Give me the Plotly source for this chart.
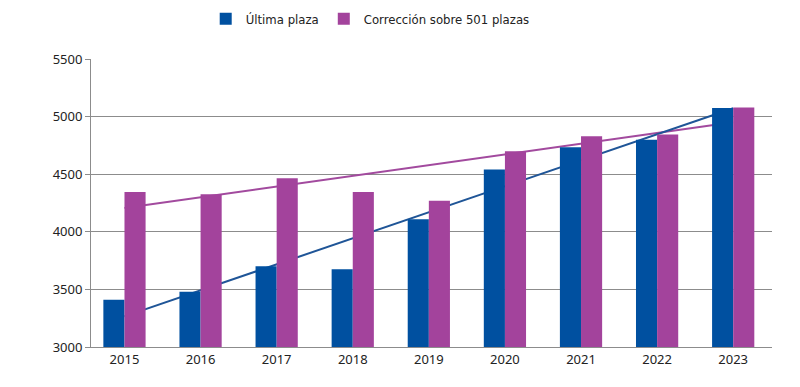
import numpy as np
import plotly.graph_objects as go

years = ["2015", "2016", "2017", "2018", "2019", "2020", "2021", "2022", "2023"]
ultima_plaza = [3410, 3480, 3700, 3675, 4110, 4540, 4735, 4800, 5075]
correccion_501 = [4345, 4325, 4465, 4345, 4270, 4700, 4830, 4845, 5080]
y_ticks = [3000, 3500, 4000, 4500, 5000, 5500]

idx = np.arange(len(years))
fit_u = np.polyval(np.polyfit(idx, ultima_plaza, 1), idx)
fit_c = np.polyval(np.polyfit(idx, correccion_501, 1), idx)

BLUE = "#0050A0"
PURPLE = "#A3439C"
GRID = "#8C8C8C"
xr = [-0.44, 8.51]
yr = [3000, 5500]

fig = go.Figure()
# trend lines (behind bars) on main axes
fig.add_trace(go.Scatter(x=idx, y=fit_c, mode="lines", line=dict(color="#A24A9E", width=2),
                         showlegend=False, hoverinfo="skip", xaxis="x", yaxis="y"))
fig.add_trace(go.Scatter(x=idx, y=fit_u, mode="lines", line=dict(color="#1F5597", width=2),
                         showlegend=False, hoverinfo="skip", xaxis="x", yaxis="y"))
# bars on overlay axes
fig.add_trace(go.Bar(x=idx, y=ultima_plaza, name="Última plaza", marker=dict(color=BLUE, line_width=0),
                     xaxis="x2", yaxis="y2"))
fig.add_trace(go.Bar(x=idx, y=correccion_501, name="Corrección sobre 501 plazas",
                     marker=dict(color=PURPLE, line_width=0), xaxis="x2", yaxis="y2"))

tickfont = dict(family="Noto Sans, Open Sans, sans-serif", size=13, color="#222222")
fig.update_layout(
    width=800, height=387,
    margin=dict(l=83, r=36, t=51, b=48, autoexpand=False),
    paper_bgcolor="white", plot_bgcolor="white",
    barmode="group", bargap=0.445, bargroupgap=0,
    xaxis=dict(range=xr, tickvals=list(idx), ticktext=years, showgrid=False, zeroline=False,
               showline=True, linecolor=GRID, linewidth=1, ticks="", tickfont=tickfont),
    yaxis=dict(range=yr, tickvals=y_ticks, showgrid=True, gridcolor=GRID, gridwidth=1, zeroline=False,
               showline=True, linecolor=GRID, linewidth=1, ticks="outside", ticklen=5, tickcolor=GRID,
               tickfont=tickfont),
    xaxis2=dict(range=xr, overlaying="x", visible=False),
    yaxis2=dict(range=yr, overlaying="y", visible=False),
    legend=dict(orientation="h", x=0.41, xanchor="center", y=1.14, yanchor="middle",
                font=dict(family="DejaVu Sans Condensed, Liberation Sans Narrow, sans-serif", size=13, color="#222222"),
                itemwidth=30, traceorder="normal", bgcolor="rgba(0,0,0,0)"),
    showlegend=True,
)

fig.write_html("out.html")
